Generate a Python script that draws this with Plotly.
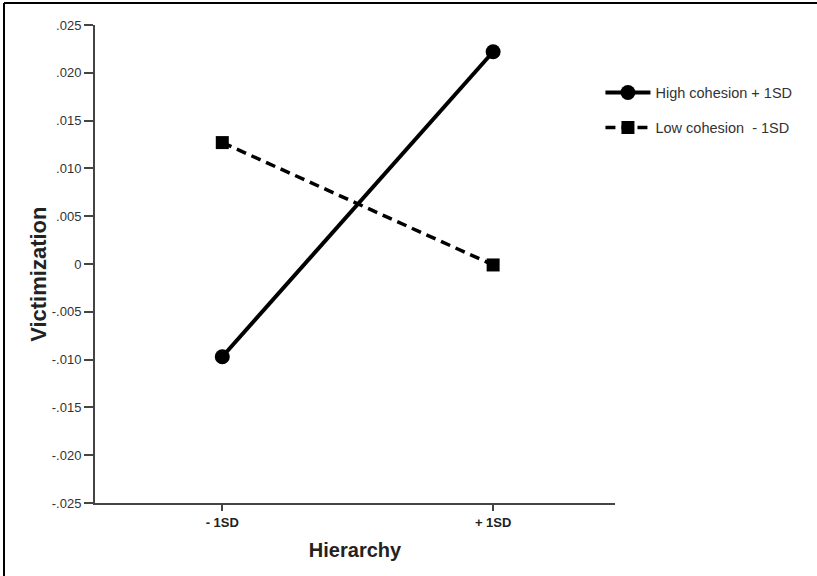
import plotly.graph_objects as go

categories = ["- 1SD", "+ 1SD"]
high_cohesion = [-0.0097, 0.0222]
low_cohesion = [0.0127, -0.0001]
y_tickvals = [-0.025, -0.020, -0.015, -0.010, -0.005, 0, 0.005, 0.010, 0.015, 0.020, 0.025]
y_ticktext = ["-.025", "-.020", "-.015", "-.010", "-.005", "0", ".005", ".010", ".015", ".020", ".025"]

FONT = "Liberation Sans, Arial, sans-serif"

fig = go.Figure()
fig.add_trace(go.Scatter(
    x=categories, y=high_cohesion, mode="lines+markers",
    name="High cohesion + 1SD", legendgroup="a",
    line=dict(color="black", width=4),
    marker=dict(symbol="circle", size=15, color="black"),
))
fig.add_trace(go.Scatter(
    x=categories, y=low_cohesion, mode="lines+markers",
    name="Low cohesion  - 1SD", legendgroup="b",
    line=dict(color="black", width=3.5, dash="10px,6px"),
    marker=dict(symbol="square", size=13, color="black"),
))

fig.update_layout(
    width=817, height=576,
    margin=dict(l=95, r=202, t=25, b=73),
    paper_bgcolor="white", plot_bgcolor="white",
    font=dict(family=FONT, color="#222222"),
    legend=dict(x=0.972, y=0.892, xanchor="left", yanchor="top",
                font=dict(size=14.5, color="#333333"),
                itemwidth=45,
                tracegroupgap=13, bgcolor="rgba(0,0,0,0)"),
    xaxis=dict(
        type="category", range=[-0.47, 1.45],
        showline=True, linecolor="#444444", linewidth=2,
        ticks="outside", ticklen=6, tickwidth=1.5, tickcolor="#444444",
        showgrid=False, zeroline=False,
        tickfont=dict(size=13, family=FONT, color="#222222", weight="bold"),
        title=dict(text="<b>Hierarchy</b>", font=dict(size=20, color="#222222"), standoff=14),
    ),
    yaxis=dict(
        range=[-0.025, 0.025],
        tickvals=y_tickvals, ticktext=y_ticktext,
        showline=True, linecolor="#444444", linewidth=2,
        ticks="outside", ticklen=9, tickwidth=2, tickcolor="#444444",
        showgrid=False, zeroline=False,
        tickfont=dict(size=13, color="#333333"),
    ),
    annotations=[
        dict(text="<b>Victimization</b>", textangle=-90, xref="paper", yref="paper",
             x=-0.11, y=0.479, xanchor="center", yanchor="middle", showarrow=False,
             font=dict(size=22, color="#222222")),
    ],
    shapes=[
        dict(type="line", xref="paper", yref="paper", x0=-0.175, x1=1.5, y0=1.046, y1=1.046,
             line=dict(color="black", width=2)),
        dict(type="line", xref="paper", yref="paper", x0=-0.175, x1=-0.175, y0=-0.2, y1=1.046,
             line=dict(color="black", width=2)),
    ],
)

fig.write_html(
    "out.html", config={"displayModeBar": False},
    post_script=(
        "document.body.style.margin='0';document.body.style.overflow='hidden';"
        "document.documentElement.style.overflow='hidden';"
    ),
)
